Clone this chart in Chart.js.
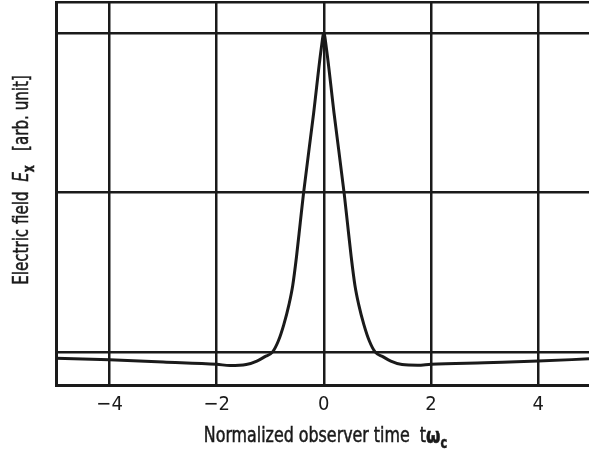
<!DOCTYPE html>
<html>
<head>
<meta charset="utf-8">
<script src="https://cdn.jsdelivr.net/npm/chart.js@4"></script>
<style>
  html, body { margin: 0; padding: 0; background: #fff; }
  #wrap { width: 589px; height: 459px; }
</style>
</head>
<body>
<div id="wrap"><canvas id="pulse"></canvas></div>
<script>
// values
const timeValues = [-5, -4, -3, -2, -1.75, -1.45, -1.25, -1.1, -0.96, -0.85, -0.75, -0.65, -0.58, -0.51, -0.44, -0.38, -0.19, -0.05, 0,
                    0.05, 0.19, 0.38, 0.44, 0.51, 0.58, 0.65, 0.75, 0.85, 0.96, 1.1, 1.25, 1.46, 1.75, 2, 3, 4, 4.95];
const fieldValues = [-0.019, -0.024, -0.031, -0.038, -0.042, -0.039, -0.028, -0.014, 0, 0.035, 0.085, 0.15, 0.21, 0.30, 0.406, 0.497, 0.75, 0.95, 1.0,
                     0.95, 0.75, 0.497, 0.406, 0.30, 0.21, 0.15, 0.085, 0.035, 0, -0.014, -0.028, -0.039, -0.041, -0.038, -0.033, -0.028, -0.021];
const xTicks = [-4, -2, 0, 2, 4];
const yGridValues = [0, 0.5, 1];

const FONT = "'Liberation Sans Narrow', 'DejaVu Sans Condensed', sans-serif";
const INK = '#1a1a1a';

const points = timeValues.map((t, i) => ({ x: t, y: fieldValues[i] }));

// axis titles with italic / subscript pieces, squeezed to look condensed
function drawRuns(ctx, runs, squeeze) {
    let total = 0;
    runs.forEach(r => { ctx.font = r.font; r.w = ctx.measureText(r.text).width; total += r.w; });
    ctx.scale(squeeze, 1);
    ctx.lineWidth = 0.5;
    ctx.strokeStyle = INK;
    let x = -total / 2;
    runs.forEach(r => {
        ctx.font = r.font;
        ctx.fillText(r.text, x, r.dy || 0);
        ctx.strokeText(r.text, x, r.dy || 0);
        x += r.w;
    });
}

const axisTitles = {
    id: 'axisTitles',
    afterDraw(chart) {
        const ctx = chart.ctx;
        const a = chart.chartArea;
        ctx.fillStyle = INK;
        ctx.textBaseline = 'middle';
        ctx.textAlign = 'left';

        ctx.save();
        ctx.translate((a.left + a.right) / 2 + 3, 437);
        drawRuns(ctx, [
            { text: 'Normalized observer time  t', font: '21px ' + FONT },
            { text: '\u03c9', font: 'bold 22px ' + FONT },
            { text: 'c', font: 'bold 15px ' + FONT, dy: 7 }
        ], 0.84);
        ctx.restore();

        ctx.save();
        ctx.translate(23, 180);
        ctx.rotate(-Math.PI / 2);
        drawRuns(ctx, [
            { text: 'Electric field  ', font: '21px ' + FONT },
            { text: 'E', font: 'italic 21px ' + FONT },
            { text: 'x', font: 'bold 15px ' + FONT, dy: 7 },
            { text: '   [arb. unit]', font: '21px ' + FONT }
        ], 0.8);
        ctx.restore();
    }
};

new Chart(document.getElementById('pulse'), {
    type: 'line',
    data: {
        datasets: [{
            data: points,
            borderColor: INK,
            borderWidth: 3,
            pointRadius: 0,
            cubicInterpolationMode: 'monotone',
            fill: false
        }]
    },
    options: {
        responsive: true,
        maintainAspectRatio: false,
        animation: false,
        layout: { padding: { left: 56, top: 2, right: 0, bottom: 0 } },
        plugins: { legend: { display: false }, tooltip: { enabled: false } },
        scales: {
            x: {
                type: 'linear',
                min: -5,
                max: 4.95,
                afterBuildTicks: s => { s.ticks = xTicks.map(v => ({ value: v })); },
                afterFit: s => { s.height = 74; },
                grid: { color: INK, lineWidth: 2.5, drawTicks: false },
                border: { color: INK, width: 3 },
                ticks: {
                    color: INK,
                    padding: 8,
                    font: { family: FONT, size: 20 },
                    callback: v => String(v).replace('-', '\u2212')
                }
            },
            y: {
                min: -0.103,
                max: 1.098,
                afterBuildTicks: s => { s.ticks = yGridValues.concat([1.098]).map(v => ({ value: v })); },
                afterFit: s => { s.width = 0; },
                grid: { color: INK, lineWidth: 2.5, drawTicks: false },
                border: { color: INK, width: 3 },
                ticks: { display: false }
            }
        }
    },
    plugins: [axisTitles]
});
</script>
</body>
</html>
